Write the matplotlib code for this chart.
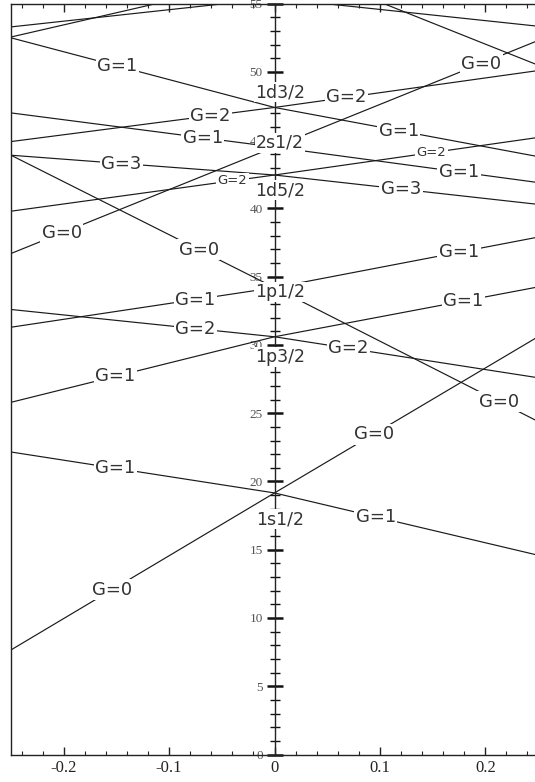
import numpy as np
import matplotlib
matplotlib.use('Agg')
import matplotlib.pyplot as plt
from matplotlib.ticker import MultipleLocator

# deformation values at which the level energies are read
deformation = [-0.25, 0.0, 0.25]

# level energies (one list per line) at the three deformations
s1_G0 = [7.66, 19.16, 30.6]
s1_G1 = [22.16, 19.16, 14.6]
p3_G1 = [25.8, 30.6, 34.25]
p3_G2 = [32.6, 30.6, 27.6]
p1_G1 = [31.3, 34.2, 37.9]
p1_G0 = [43.9, 34.2, 24.4]
d5_G3 = [43.9, 42.45, 40.3]
d5_G2 = [39.8, 42.45, 45.2]
s2_G0 = [36.7, 44.5, 52.3]
s2_G1 = [47.0, 44.5, 41.9]
d3_G1 = [52.5, 47.4, 43.8]
d3_G2 = [44.9, 47.4, 50.1]
up_a = [53.3, 55.4, 53.35]
up_b = [52.56, 57.0, 60.0]
up_c = [60.0, 58.2, 50.5]

all_lines = [s1_G0, s1_G1, p3_G1, p3_G2, p1_G1, p1_G0, d5_G3, d5_G2,
             s2_G0, s2_G1, d3_G1, d3_G2, up_a, up_b, up_c]

# G labels: (line, text, x position left, x position right, small)
g_labels = [
    (s1_G0, "G=0", -0.154, 0.094, False),
    (s1_G1, "G=1", -0.151, 0.096, False),
    (p3_G1, "G=1", -0.151, 0.179, False),
    (p3_G2, "G=2", -0.075, 0.070, False),
    (p1_G1, "G=1", -0.075, 0.175, False),
    (p1_G0, "G=0", -0.072, 0.213, False),
    (d5_G3, "G=3", -0.145, 0.120, False),
    (d5_G2, "G=2", -0.040, 0.149, True),
    (s2_G0, "G=0", -0.202, 0.196, False),
    (s2_G1, "G=1", -0.068, 0.175, False),
    (d3_G1, "G=1", -0.149, 0.118, False),
    (d3_G2, "G=2", -0.061, 0.068, False),
]

# spherical level labels and their energy positions
level_names = ["1d3/2", "2s1/2", "1d5/2", "1p1/2", "1p3/2", "1s1/2"]
level_label_y = [48.5, 44.8, 41.35, 33.9, 29.1, 17.25]

xticks = [-0.2, -0.1, 0.0, 0.1, 0.2]
xtick_labels = ["-0.2", "-0.1", "0", "0.1", "0.2"]
yticks = list(range(0, 56, 5))

fig = plt.figure(figsize=(5.35, 7.82), dpi=100)
ax = fig.add_axes([11 / 535, 27.5 / 782, 527 / 535, 750.8 / 782])
ax.set_xlim(-0.25, 0.25)
ax.set_ylim(0, 55)

for ys in all_lines:
    ax.plot(deformation, ys, color='#1a1a1a', lw=0.85, zorder=2)

for ys, txt, xl, xr, small in g_labels:
    fs = 9.5 if small else 13
    for xp in (xl, xr):
        yp = np.interp(xp, deformation, ys)
        ax.text(xp, yp, txt, ha='center', va='center', fontsize=fs,
                family='DejaVu Sans', color='#333333', zorder=4,
                bbox=dict(facecolor='white', edgecolor='none', pad=1.0))

for name, yl in zip(level_names, level_label_y):
    ax.text(0.005, yl, name, ha='center', va='center', fontsize=12.5,
            family='DejaVu Sans', color='#333333', zorder=4,
            bbox=dict(facecolor='white', edgecolor='none', pad=0.8))

# central energy axis at zero deformation, frame line at the left
ax.spines['left'].set_position(('data', 0.0))
ax.spines['right'].set_position(('data', -0.25))
for sp in ax.spines.values():
    sp.set_linewidth(1.0)
    sp.set_color('#222222')
ax.yaxis.set_ticks_position('left')
ax.set_yticks(yticks)
ax.yaxis.set_minor_locator(MultipleLocator(1))
ax.tick_params(axis='y', which='major', direction='inout', length=11, width=1.8,
               pad=3, labelsize=9.5, labelcolor='#555555', color='#111111')
ax.tick_params(axis='y', which='minor', direction='inout', length=7, width=1.0,
               color='#111111')
for lab in ax.get_yticklabels():
    lab.set_family('Liberation Serif')

ax.set_xticks(xticks, labels=xtick_labels)
ax.xaxis.set_minor_locator(MultipleLocator(0.02))
ax.tick_params(axis='x', which='both', direction='in', top=True, bottom=True,
               labelsize=12, color='#222222', labelcolor='#222222', pad=4)
ax.tick_params(axis='x', which='major', length=6, width=1.0)
ax.tick_params(axis='x', which='minor', length=3, width=0.8)
for lab in ax.get_xticklabels():
    lab.set_family('Liberation Serif')

fig.savefig('out.png', dpi=100)
